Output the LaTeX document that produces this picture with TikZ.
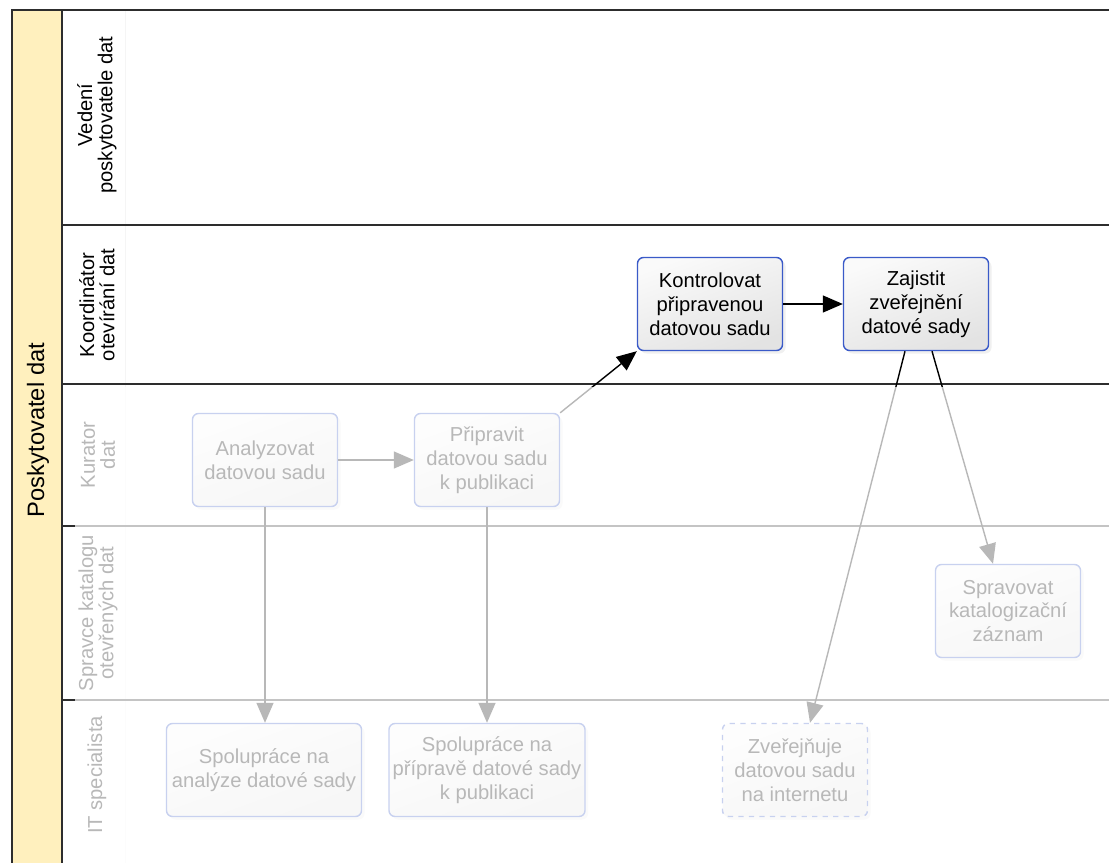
\documentclass[tikz,border=0pt]{standalone}
\usepackage{fontspec}
\setmainfont{Liberation Sans}
\usetikzlibrary{arrows.meta,calc,shadows}
\definecolor{poolyellow}{RGB}{255,240,190}
\definecolor{taskblue}{RGB}{58,90,200}
\definecolor{laneline}{RGB}{45,45,45}
\tikzset{
  tarea/.style={draw=taskblue, line width=0.8pt, rounded corners=0.12cm,
    top color=gray!4, bottom color=gray!22, shading angle=20,
    minimum width=2.9cm, minimum height=1.86cm, inner sep=1pt, align=center,
    font=\fontsize{11.5}{13.6}\selectfont,
    drop shadow={opacity=0.12, shadow xshift=0.06cm, shadow yshift=-0.06cm}},
  carril/.style={rotate=90, align=center, font=\fontsize{11.5}{11.5}\selectfont},
  flujo/.style={-{Triangle[length=0.4cm,width=0.34cm]}, line width=0.8pt},
  linea/.style={laneline, line width=1.2pt}
}
\begin{document}
\begin{tikzpicture}
    \useasboundingbox (0,0) rectangle (22.18,-17.24);
    \begin{scope}
        \clip (0,0) rectangle (22.18,-17.24);
        % pool and lanes
        \fill [poolyellow] (0.24,-0.2) rectangle (1.24,-17.6);
        \draw [gray!8] (2.5,-0.2) -- (2.5,-17.6);
        \draw [linea] (0.24,-17.6) -- (0.24,-0.2) -- (22.6,-0.2);
        \draw [linea] (1.24,-0.2) -- (1.24,-17.6);
        \foreach \y in {-4.5,-7.68,-10.52,-14.0}
            \draw [linea] (1.24,\y) -- (22.6,\y);
        \path (0.76,-8.6) node [rotate=90, font=\fontsize{13.5}{16}\selectfont] (pool) {Poskytovatel dat};
        \path (1.94,-2.3) node [carril] (vedeni) {Vedení\\poskytovatele dat};
        \path (1.94,-6.1) node [carril] (koordinator) {Koordinátor\\otevírání dat};
        \path (1.96,-9.1) node [carril] (kurator) {Kurator\\dat};
        \path (1.96,-12.26) node [carril] (spravce) {Spravce katalogu\\otevřených dat};
        \path (1.94,-15.5) node [carril] (itspec) {IT specialista};
        % tasks
        \path (14.2,-6.08) node [tarea] (kontrolovat) {Kontrolovat\\připravenou\\datovou sadu};
        \path (18.32,-6.08) node [tarea] (zajistit) {Zajistit\\zveřejnění\\datové sady};
        \path (5.3,-9.2) node [tarea] (analyzovat) {Analyzovat\\datovou sadu};
        \path (9.74,-9.2) node [tarea] (pripravit) {Připravit\\datovou sadu\\k publikaci};
        \path (20.16,-12.22) node [tarea] (spravovat) {Spravovat\\katalogizační\\záznam};
        \path (5.28,-15.4) node [tarea, minimum width=3.9cm] (spoluprace1) {Spolupráce na\\analýze datové sady};
        \path (9.74,-15.4) node [tarea, minimum width=3.92cm] (spoluprace2) {Spolupráce na\\přípravě datové sady\\k publikaci};
        \path (15.9,-15.4) node [tarea, dashed] (zverejnuje) {Zveřejňuje\\datovou sadu\\na internetu};
        % flows
        \draw [flujo] (analyzovat) -- (pripravit);
        \draw [flujo] (pripravit.north east) -- (kontrolovat.south west);
        \draw [flujo] (kontrolovat) -- (zajistit);
        \draw [flujo] ($(zajistit.south)+(-0.22,0)$) -- ($(zverejnuje.north)+(0.3,0)$);
        \draw [flujo] ($(zajistit.south)+(0.32,0)$) -- ($(spravovat.north)+(-0.3,0)$);
        \draw [flujo] (analyzovat) -- (analyzovat |- spoluprace1.north);
        \draw [flujo] (pripravit) -- (pripravit |- spoluprace2.north);
        % lower lanes greyed out
        \fill [white, opacity=0.72] (1.5,-7.74) rectangle (22.6,-17.6);
    \end{scope}
\end{tikzpicture}
\end{document}
